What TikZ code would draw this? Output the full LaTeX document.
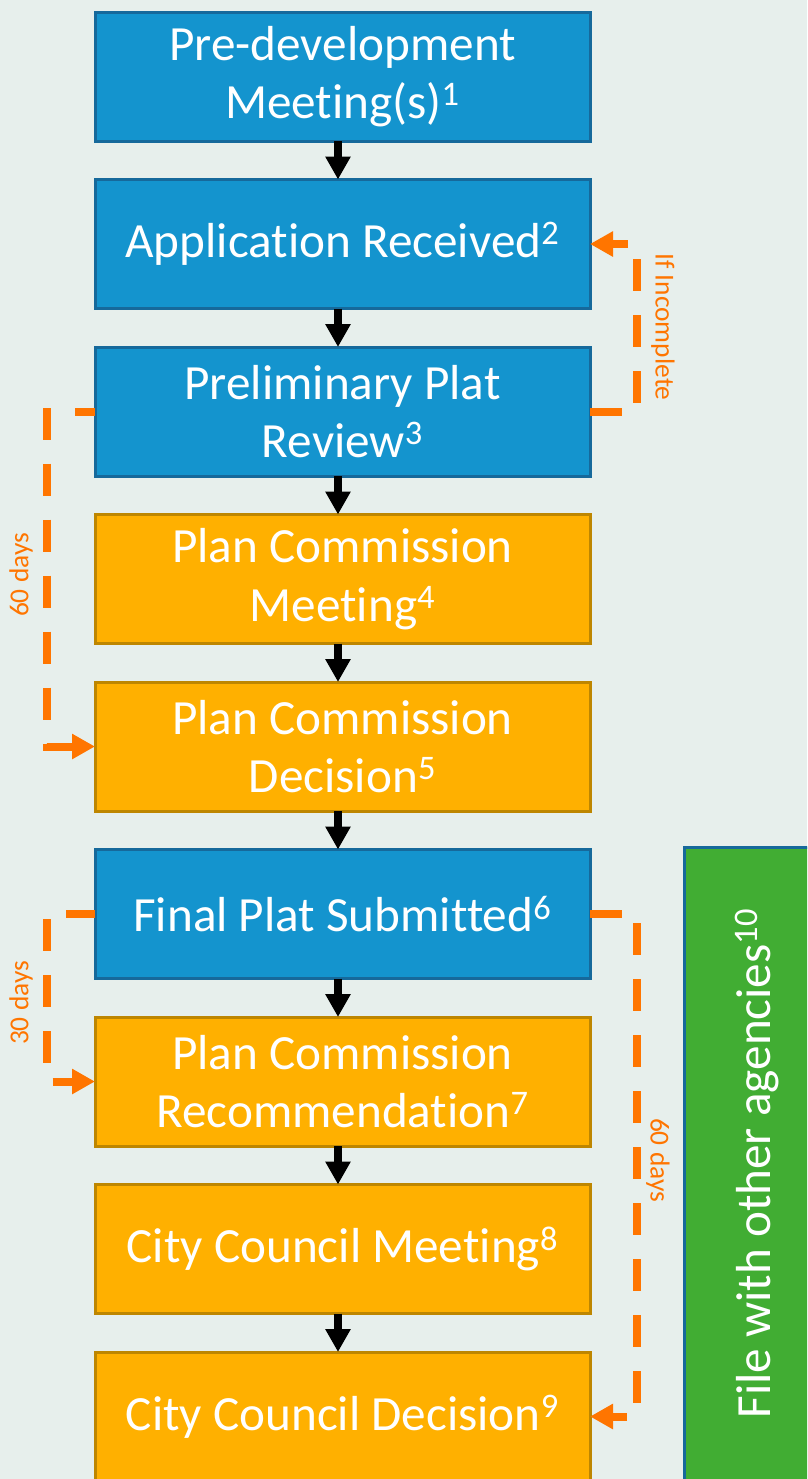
\documentclass[tikz,border=0pt]{standalone}
\usepackage{fontspec}
\setmainfont{Carlito}[Ligatures={NoCommon,NoContextual}, RawFeature={-liga;-clig;-dlig}]
\usetikzlibrary{arrows.meta,positioning}

\definecolor{backdrop}{RGB}{231,239,236}
\definecolor{staffblue}{RGB}{20,148,206}
\definecolor{staffblueline}{RGB}{22,105,155}
\definecolor{boardgold}{RGB}{255,176,0}
\definecolor{boardgoldline}{RGB}{190,134,0}
\definecolor{agencygreen}{RGB}{65,173,51}
\definecolor{deadlineorange}{RGB}{255,117,0}

\tikzset{
  stage box/.style = {draw, line width=0.075cm, outer sep=0pt, minimum width=12.375cm, minimum height=3.225cm,
                      align=center, text=white, font=\fontsize{35}{41.5}\selectfont},
  staff box/.style = {stage box, fill=staffblue, draw=staffblueline},
  board box/.style = {stage box, fill=boardgold, draw=boardgoldline},
  flow/.style = {line width=0.2cm, -{Triangle[width=0.6cm,length=0.575cm]}},
  deadline/.style = {draw=deadlineorange, line width=0.2cm, dash pattern=on 0.8cm off 0.6cm,
                     -{Triangle[width=0.6cm,length=0.575cm]}},
  tag/.style = {text=deadlineorange, font=\fontsize{19.5}{23}\selectfont, inner sep=0pt}
}

\begin{document}
\begin{tikzpicture}[node distance=0.9625cm]
    \useasboundingbox (0,0) rectangle (20.175,-36.975);
    \clip (0,0) rectangle (20.175,-36.975);
    \fill[backdrop] (0,0) rectangle (20.175,-36.975);

    % main sequence
    \node[staff box] (meeting) at (8.5625,-1.9125) {Pre-development\\Meeting(s)\textsuperscript{1}};
    \node[staff box, below=of meeting] (application) {Application Received\textsuperscript{2}};
    \node[staff box, below=of application] (prelim) {Preliminary Plat\\Review\textsuperscript{3}};
    \node[board box, below=of prelim] (pcmeeting) {Plan Commission\\Meeting\textsuperscript{4}};
    \node[board box, below=of pcmeeting] (pcdecision) {Plan Commission\\Decision\textsuperscript{5}};
    \node[staff box, below=of pcdecision] (final) {Final Plat Submitted\textsuperscript{6}};
    \node[board box, below=of final] (pcrecommend) {Plan Commission\\Recommendation\textsuperscript{7}};
    \node[board box, below=of pcrecommend] (ccmeeting) {City Council Meeting\textsuperscript{8}};
    \node[board box, below=of ccmeeting] (ccdecision) {City Council Decision\textsuperscript{9}};

    \node[stage box, fill=agencygreen, draw=staffblueline, rotate=90, minimum width=15.825cm, minimum height=3.625cm]
        (agencies) at (18.925,-29.0875) {File with other agencies\textsuperscript{10}};

    % arrows sit a little left of the box centres
    \foreach \from/\to in {meeting/application, application/prelim, prelim/pcmeeting, pcmeeting/pcdecision,
                           pcdecision/final, final/pcrecommend, pcrecommend/ccmeeting, ccmeeting/ccdecision}
        \draw[flow] ([xshift=-0.1125cm]\from.south) -- ([xshift=-0.1125cm]\to.north);

    % time limits and returns
    \draw[deadline] (prelim.east) -- ++(1.175,0) |- (application.east);
    \draw[deadline, dash phase=0.3cm] (prelim.west) -- ++(-1.2,0) |- (pcdecision.west);
    \draw[deadline, dash phase=0.075cm] (final.west) -- ++(-1.2,0) |- (pcrecommend.west);
    \draw[deadline] (final.east) -- ++(1.175,0) |- (ccdecision.east);

    \node[tag, rotate=-90] (incomplete) at (16.575,-8.175) {If Incomplete};
    \node[tag, rotate=90] (prelimdays) at (0.525,-14.375) {60 days};
    \node[tag, rotate=90] (recommenddays) at (0.525,-25.075) {30 days};
    \node[tag, rotate=-90] (councildays) at (16.45,-29.0) {60 days};
\end{tikzpicture}
\end{document}
